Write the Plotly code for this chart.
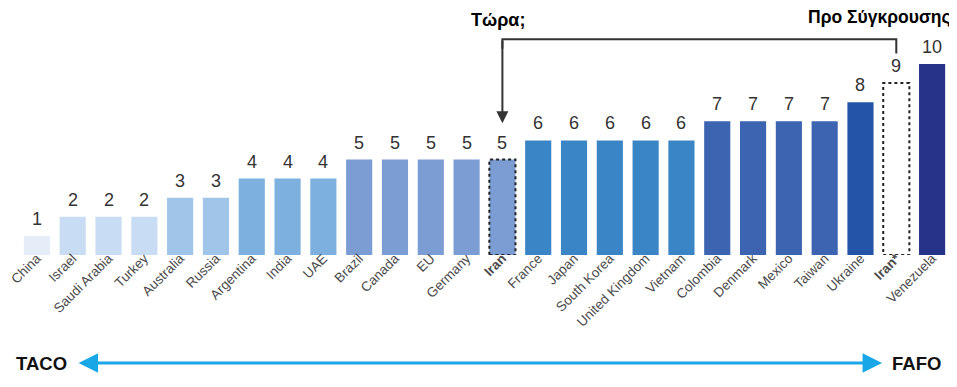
import plotly.graph_objects as go

# ---- data ----
countries = ["China", "Israel", "Saudi Arabia", "Turkey", "Australia", "Russia",
             "Argentina", "India", "UAE", "Brazil", "Canada", "EU", "Germany",
             "Iran", "France", "Japan", "South Korea", "United Kingdom", "Vietnam",
             "Colombia", "Denmark", "Mexico", "Taiwan", "Ukraine", "Iran*", "Venezuela"]
tick_labels = ["China", "Israel", "Saudi Arabia", "Turkey", "Australia", "Russia",
               "Argentina", "India", "UAE", "Brazil", "Canada", "EU", "Germany",
               "<b>Iran</b>", "France", "Japan", "South Korea", "United Kingdom", "Vietnam",
               "Colombia", "Denmark", "Mexico", "Taiwan", "Ukraine", "<b>Iran*</b>", "Venezuela"]
scores = [1, 2, 2, 2, 3, 3, 4, 4, 4, 5, 5, 5, 5, 5, 6, 6, 6, 6, 6, 7, 7, 7, 7, 8, 9, 10]
bar_colors = ["#e4edf8", "#c8ddf3", "#c8ddf3", "#c8ddf3", "#a0c5e8", "#a0c5e8",
              "#7db0de", "#7db0de", "#7db0de", "#7b9dd3", "#7b9dd3", "#7b9dd3", "#7b9dd3",
              "#7b9dd3", "#3a85c5", "#3a85c5", "#3a85c5", "#3a85c5", "#3a85c5",
              "#3c64b0", "#3c64b0", "#3c64b0", "#3c64b0", "#2454a7", "#ffffff", "#253389"]
dotted = ["Iran", "Iran*"]

BAR_W = 0.73
FONT = "Arial, Liberation Sans, sans-serif"

fig = go.Figure()
fig.add_trace(go.Bar(
    x=countries, y=scores, width=BAR_W,
    marker=dict(color=bar_colors, line=dict(width=0)),
    hoverinfo="x+y", showlegend=False,
))

# dotted outlines for the Iran bars (derived from data)
for name in dotted:
    i = countries.index(name)
    v = scores[i]
    xs = [i - BAR_W / 2, i + BAR_W / 2, i + BAR_W / 2, i - BAR_W / 2, i - BAR_W / 2]
    ys = [0, 0, v, v, 0]
    fig.add_trace(go.Scatter(x=xs, y=ys, mode="lines", xaxis="x2",
                             line=dict(color="#222222", width=2, dash="dot"),
                             hoverinfo="skip", showlegend=False))

# value labels
for c, v in zip(countries, scores):
    fig.add_annotation(x=c, y=v, text=str(v), showarrow=False, xref="x", yref="y",
                       yanchor="bottom", yshift=5,
                       font=dict(family=FONT, size=18, color="#333333"))

# connector from "Προ Σύγκρουσης" Iran to current Iran
i_now = countries.index("Iran")
i_pre = countries.index("Iran*")
y_top = 11.3
fig.add_shape(type="path", xref="x2", yref="y",
              path=f"M {i_pre} {scores[i_pre] + 1.55} L {i_pre} {y_top} L {i_now} {y_top} L {i_now} {y_top - 0.5}",
              line=dict(color="#333333", width=2))
fig.add_annotation(x=i_now, y=scores[i_now] + 1.9, ax=i_now, ay=y_top,
                   xref="x2", yref="y", axref="x2", ayref="y",
                   showarrow=True, arrowhead=2, arrowsize=1.2, arrowwidth=2,
                   arrowcolor="#333333", standoff=0, text="")

fig.add_annotation(x=0.5145, y=1.068, xref="paper", yref="paper", showarrow=False,
                   xanchor="center", yanchor="middle",
                   text="<b>Τώρα;</b>", font=dict(family=FONT, size=18, color="#000000"))
fig.add_annotation(x=1.0, y=1.082, xref="paper", yref="paper", showarrow=False,
                   xanchor="right", yanchor="middle", xshift=3,
                   text="<b>Προ Σύγκρουσης</b>", font=dict(family=FONT, size=17.5, color="#000000"))

# TACO <-> FAFO arrow
fig.add_annotation(x=0.927, y=-0.491, xref="paper", yref="paper",
                   ax=-805, ay=0, axref="pixel", ayref="pixel",
                   showarrow=True, arrowhead=2, startarrowhead=2, arrowside="end+start",
                   arrowsize=1.3, startarrowsize=1.3, arrowwidth=3,
                   arrowcolor="#1aa7e8", standoff=0, startstandoff=0, text="")
fig.add_annotation(x=0.0, y=-0.491, xref="paper", yref="paper", showarrow=False,
                   xanchor="left", yanchor="middle", xshift=-5, text="<b>TACO</b>",
                   font=dict(family=FONT, size=18.5, color="#111111"))
fig.add_annotation(x=1.0, y=-0.491, xref="paper", yref="paper", showarrow=False,
                   xanchor="right", yanchor="middle", xshift=-7, text="<b>FAFO</b>",
                   font=dict(family=FONT, size=18.5, color="#111111"))

# figure sized to sit inside the page's 8px body margin
fig.update_layout(
    width=949, height=379,
    margin=dict(l=11, r=7, t=27, b=132),
    paper_bgcolor="white", plot_bgcolor="white",
    bargap=0.27,
    xaxis=dict(type="category", categoryorder="array", categoryarray=countries,
               tickvals=countries, ticktext=tick_labels, tickangle=-45,
               tickfont=dict(family=FONT, size=13.5, color="#4a4a4a"),
               ticklabelstandoff=-8,
               showgrid=False, zeroline=False, showline=False, ticks="",
               range=[-0.5, len(countries) - 0.5], automargin=False),
    xaxis2=dict(overlaying="x", range=[-0.5, len(countries) - 0.5], visible=False),
    yaxis=dict(range=[0, 11.52], visible=False, automargin=False),
)

fig.write_html("out.html")
